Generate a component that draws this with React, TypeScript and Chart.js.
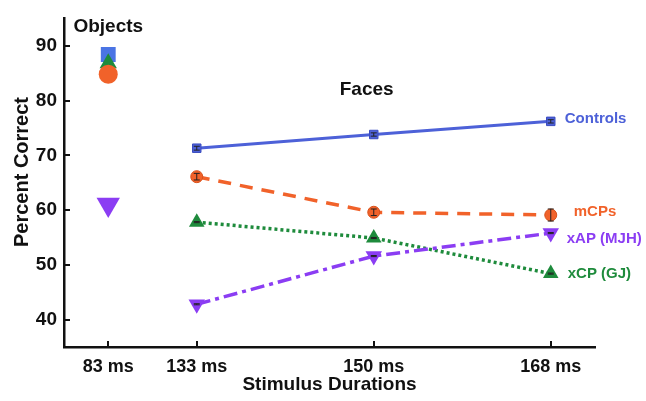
import React, { useEffect, useRef } from "react";
import { Chart, registerables } from "chart.js";

Chart.register(...registerables);

// ---- data ----
const faceX = [1, 2, 3];
const objectX = 0.5;
const xTickValues = [0.5, 1, 2, 3];
const xTickLabels = ["83 ms", "133 ms", "150 ms", "168 ms"];
const yTickValues = [40, 50, 60, 70, 80, 90];

const controls = [71.3, 73.8, 76.2];
const controlsErr = [0.35, 0.3, 0.3];
const mcps = [66.1, 59.6, 59.1];
const mcpsErr = [0.6, 0.6, 1.1];
const xcp = [57.8, 54.9, 48.4];
const xcpErr = [0.1, 0.1, 0.1];
const xap = [42.8, 51.6, 55.8];
const xapErr = [0.1, 0.1, 0.1];

const objControls = 88.4;
const objMcps = 84.8;
const objXcp = 86.8;
const objXap = 61.0;

const seriesNames = ["Controls", "mCPs", "xAP (MJH)", "xCP (GJ)"];
const seriesLabelY = [76.6, 59.7, 54.7, 48.3];
const seriesLabelDx = [14, 23, 16, 17];

const BLUE = "#4d61d8";
const BLUE_OBJ = "#4a74e4";
const ORANGE = "#f1622a";
const GREEN = "#1e8b3c";
const PURPLE = "#8b3df3";
const FONT = "'Liberation Sans', Arial, Helvetica, sans-serif";

const pts = (ys: number[]) => ys.map((y, i) => ({ x: faceX[i], y }));

const overlay = {
  id: "overlay",
  afterDatasetsDraw(chart: any) {
    const ctx = chart.ctx;
    const xs = chart.scales.x;
    const ys = chart.scales.y;
    ctx.save();
    ctx.strokeStyle = "#222";
    ctx.lineWidth = 1;
    chart.data.datasets.forEach((ds: any) => {
      if (!ds.errors) return;
      ds.data.forEach((p: any, i: number) => {
        const e = ds.errors[i];
        const px = xs.getPixelForValue(p.x);
        const top = ys.getPixelForValue(p.y + e);
        const bot = ys.getPixelForValue(p.y - e);
        ctx.beginPath();
        ctx.moveTo(px, top);
        ctx.lineTo(px, bot);
        ctx.moveTo(px - 3, top);
        ctx.lineTo(px + 3, top);
        ctx.moveTo(px - 3, bot);
        ctx.lineTo(px + 3, bot);
        ctx.stroke();
      });
    });
    ctx.restore();
  },
  afterDraw(chart: any) {
    const ctx = chart.ctx;
    const xs = chart.scales.x;
    const ys = chart.scales.y;
    const area = chart.chartArea;
    ctx.save();
    // inward ticks
    ctx.strokeStyle = "#111";
    ctx.lineWidth = 2;
    ctx.beginPath();
    yTickValues.forEach((v) => {
      const py = Math.round(ys.getPixelForValue(v));
      ctx.moveTo(area.left, py);
      ctx.lineTo(area.left + 6, py);
    });
    xTickValues.forEach((v) => {
      const px = Math.round(xs.getPixelForValue(v));
      ctx.moveTo(px, area.bottom);
      ctx.lineTo(px, area.bottom - 6);
    });
    ctx.stroke();

    // annotations
    ctx.fillStyle = "#111";
    ctx.font = `bold 19px ${FONT}`;
    ctx.textAlign = "center";
    ctx.textBaseline = "middle";
    ctx.fillText("Objects", xs.getPixelForValue(objectX), 27);
    ctx.fillText("Faces", xs.getPixelForValue(1.96), ys.getPixelForValue(82));

    // y-axis title
    ctx.save();
    ctx.translate(22, 172);
    ctx.rotate(-Math.PI / 2);
    ctx.font = `bold 20px ${FONT}`;
    ctx.fillText("Percent Correct", 0, 0);
    ctx.restore();

    // series labels
    const colors = [BLUE, ORANGE, PURPLE, GREEN];
    ctx.font = `bold 15px ${FONT}`;
    ctx.textAlign = "left";
    seriesNames.forEach((name, i) => {
      ctx.fillStyle = colors[i];
      ctx.fillText(
        name,
        xs.getPixelForValue(faceX[2]) + seriesLabelDx[i],
        ys.getPixelForValue(seriesLabelY[i])
      );
    });
    ctx.restore();
  },
};

export default function App() {
  const ref = useRef<HTMLCanvasElement | null>(null);

  useEffect(() => {
    if (!ref.current) return;
    const chart = new Chart(ref.current, {
      type: "line",
      data: {
        datasets: [
          {
            label: "Controls",
            data: pts(controls),
            errors: controlsErr,
            borderColor: BLUE,
            backgroundColor: BLUE,
            borderWidth: 3,
            pointStyle: "rect",
            pointRadius: 6,
            pointBorderWidth: 1,
            pointBorderColor: "#3a4cc0",
            order: 4,
          } as any,
          {
            label: "mCPs",
            data: pts(mcps),
            errors: mcpsErr,
            borderColor: ORANGE,
            backgroundColor: ORANGE,
            borderWidth: 3.5,
            borderDash: [13, 9],
            pointStyle: "circle",
            pointRadius: 6,
            pointBorderWidth: 1,
            pointBorderColor: "#d8521c",
            order: 5,
          } as any,
          {
            label: "xCP (GJ)",
            data: pts(xcp),
            errors: xcpErr,
            borderColor: GREEN,
            backgroundColor: GREEN,
            borderWidth: 3.5,
            borderDash: [3, 3],
            pointStyle: "triangle",
            pointRadius: 9,
            pointBorderWidth: 0,
            order: 7,
          } as any,
          {
            label: "xAP (MJH)",
            data: pts(xap),
            errors: xapErr,
            borderColor: PURPLE,
            backgroundColor: PURPLE,
            borderWidth: 3.5,
            borderDash: [14, 5, 4, 5],
            pointStyle: "triangle",
            pointRotation: 180,
            pointRadius: 9.5,
            pointBorderWidth: 0,
            order: 6,
          } as any,
          {
            label: "Objects Controls",
            data: [{ x: objectX, y: objControls }],
            showLine: false,
            backgroundColor: BLUE_OBJ,
            borderColor: BLUE_OBJ,
            pointStyle: "rect",
            pointRadius: 10.5,
            pointBorderWidth: 0,
            order: 3,
          },
          {
            label: "Objects xCP",
            data: [{ x: objectX, y: objXcp }],
            showLine: false,
            backgroundColor: GREEN,
            borderColor: GREEN,
            pointStyle: "triangle",
            pointRadius: 10,
            pointBorderWidth: 0,
            order: 2,
          },
          {
            label: "Objects mCPs",
            data: [{ x: objectX, y: objMcps }],
            showLine: false,
            backgroundColor: ORANGE,
            borderColor: ORANGE,
            pointStyle: "circle",
            pointRadius: 9.5,
            pointBorderWidth: 0,
            order: 1,
          },
          {
            label: "Objects xAP",
            data: [{ x: objectX, y: objXap }],
            showLine: false,
            backgroundColor: PURPLE,
            borderColor: PURPLE,
            pointStyle: "triangle",
            pointRotation: 180,
            pointRadius: 13.5,
            pointBorderWidth: 0,
            order: 1,
          },
        ],
      },
      options: {
        responsive: false,
        animation: false,
        devicePixelRatio: 1,
        layout: { padding: { left: 0, top: 13, right: 51, bottom: 0 } },
        plugins: {
          legend: { display: false },
          tooltip: { enabled: false },
          title: { display: false },
        },
        scales: {
          x: {
            type: "linear",
            min: 0.25,
            max: 3.25,
            afterFit: (s: any) => {
              s.height = 54;
            },
            afterBuildTicks: (s: any) => {
              s.ticks = xTickValues.map((v) => ({ value: v }));
            },
            grid: { display: false, drawTicks: false },
            border: { display: true, color: "#111", width: 2.5 },
            ticks: {
              autoSkip: false,
              maxRotation: 0,
              padding: 9,
              color: "#111",
              font: { family: FONT, size: 18, weight: "bold" },
              callback: (v: any) => {
                const i = xTickValues.indexOf(Number(v));
                return i >= 0 ? xTickLabels[i] : "";
              },
            },
            title: {
              display: true,
              text: "Stimulus Durations",
              color: "#111",
              font: { family: FONT, size: 19, weight: "bold" },
              padding: { top: 0, bottom: 5 },
            },
          },
          y: {
            type: "linear",
            min: 35,
            max: 95,
            afterFit: (s: any) => {
              s.width = 64;
            },
            afterBuildTicks: (s: any) => {
              s.ticks = yTickValues.map((v) => ({ value: v }));
            },
            grid: { display: false, drawTicks: false },
            border: { display: true, color: "#111", width: 2.5 },
            ticks: {
              padding: 7,
              color: "#111",
              font: { family: FONT, size: 19, weight: "bold" },
            },
          },
        },
      },
      plugins: [overlay],
    } as any);
    return () => chart.destroy();
  }, []);

  return (
    <div style={{ position: "fixed", left: 0, top: 0, width: 646, height: 401, background: "#fff" }}>
      <canvas ref={ref} width={646} height={401} style={{ display: "block" }} />
    </div>
  );
}
